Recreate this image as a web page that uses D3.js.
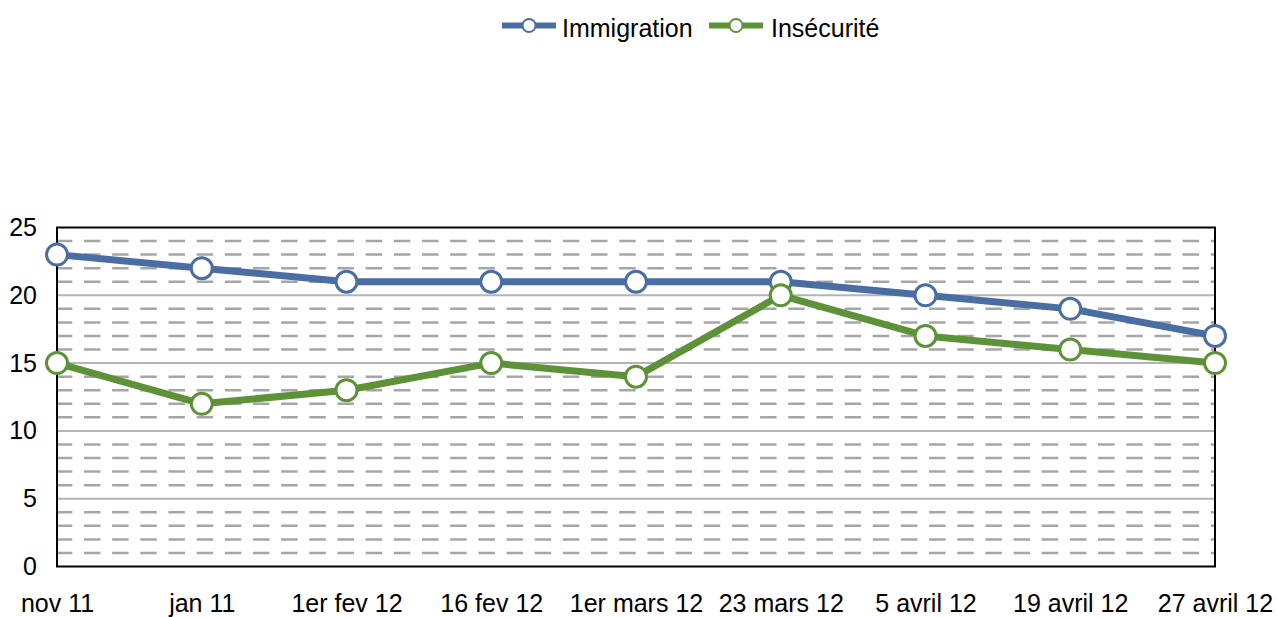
<!DOCTYPE html>
<html>
<head>
<meta charset="utf-8">
<script src="https://cdnjs.cloudflare.com/ajax/libs/d3/7.8.5/d3.min.js"></script>
<style>
  body { margin: 0; background: #fff; }
  svg text { font-family: "Liberation Sans", Arial, sans-serif; fill: #000; }
</style>
</head>
<body>
<div id="chart"></div>
<script>
// data
var categories = ["nov 11", "jan 11", "1er fev 12", "16 fev 12", "1er mars 12", "23 mars 12", "5 avril 12", "19 avril 12", "27 avril 12"];
var immigration = [23, 22, 21, 21, 21, 21, 20, 19, 17];
var insecurite = [15, 12, 13, 15, 14, 20, 17, 16, 15];
var yTicks = [0, 5, 10, 15, 20, 25];

var series = [
    { name: "Immigration", values: immigration, color: "#4a6ea3" },
    { name: "Insécurité", values: insecurite, color: "#5d9238" }
];

var width = 1277, height = 617;
var margin = { top: 227.5, right: 62, bottom: 50.5, left: 57 };
var innerW = width - margin.left - margin.right;
var innerH = height - margin.top - margin.bottom;

var svg = d3.select("#chart").append("svg")
    .attr("width", width)
    .attr("height", height);

var x = d3.scalePoint()
    .domain(categories)
    .range([margin.left, margin.left + innerW]);

var y = d3.scaleLinear()
    .domain([0, 25])
    .range([margin.top + innerH, margin.top]);

// minor dashed grid, every unit
var minor = d3.range(1, 25).filter(function(v){ return v % 5 != 0 });
svg.append("g").selectAll("line")
    .data(minor)
    .enter()
    .append("line")
    .attr("x1", margin.left)
    .attr("x2", margin.left + innerW)
    .attr("y1", function(d){ return y(d) })
    .attr("y2", function(d){ return y(d) })
    .attr("stroke", "#a6a6a6")
    .attr("stroke-width", 2.5)
    .attr("stroke-dasharray", "16.5,11.67")
    .attr("stroke-dashoffset", 1.2);

// major grid
svg.append("g").selectAll("line")
    .data(yTicks.filter(function(d){ return d > 0 && d < 25 }))
    .enter()
    .append("line")
    .attr("x1", margin.left)
    .attr("x2", margin.left + innerW)
    .attr("y1", function(d){ return y(d) })
    .attr("y2", function(d){ return y(d) })
    .attr("stroke", "#b4b4b4")
    .attr("stroke-width", 2);

// plot box
svg.append("rect")
    .attr("x", margin.left)
    .attr("y", margin.top)
    .attr("width", innerW)
    .attr("height", innerH)
    .attr("fill", "none")
    .attr("stroke", "#000")
    .attr("stroke-width", 2);

// y axis labels
var yAxis = d3.axisLeft(y).tickValues(yTicks).tickSize(0).tickPadding(20);
var gy = svg.append("g")
    .attr("transform", "translate(" + margin.left + ",0)")
    .call(yAxis);
gy.select(".domain").remove();
gy.selectAll("text")
    .style("font-size", "25px")
    .style("font-family", "Liberation Sans, Arial, sans-serif");

// x axis labels
var xAxis = d3.axisBottom(x).tickSize(0).tickPadding(28);
var gx = svg.append("g")
    .attr("transform", "translate(0," + (margin.top + innerH) + ")")
    .call(xAxis);
gx.select(".domain").remove();
gx.selectAll("text")
    .style("font-size", "25px")
    .style("font-family", "Liberation Sans, Arial, sans-serif");

var line = d3.line()
    .x(function(d, i){ return x(categories[i]) })
    .y(function(d){ return y(d) });

series.forEach(function(s){
    svg.append("path")
        .datum(s.values)
        .attr("d", line)
        .attr("fill", "none")
        .attr("stroke", s.color)
        .attr("stroke-width", 7)
        .attr("stroke-linejoin", "round");

    svg.append("g").selectAll("circle")
        .data(s.values)
        .enter()
        .append("circle")
        .attr("cx", function(d, i){ return x(categories[i]) })
        .attr("cy", function(d){ return y(d) })
        .attr("r", 10.5)
        .attr("fill", "#fff")
        .attr("stroke", s.color)
        .attr("stroke-width", 3);
});

// legend
var legendItems = [
    { x: 502, textX: 562 },
    { x: 709, textX: 771 }
];
var legend = svg.append("g");
series.forEach(function(s, i){
    var it = legendItems[i];
    legend.append("line")
        .attr("x1", it.x)
        .attr("x2", it.x + 54)
        .attr("y1", 25.5)
        .attr("y2", 25.5)
        .attr("stroke", s.color)
        .attr("stroke-width", 6);
    legend.append("circle")
        .attr("cx", it.x + 27)
        .attr("cy", 25.5)
        .attr("r", 6.5)
        .attr("fill", "#fff")
        .attr("stroke", s.color)
        .attr("stroke-width", 2);
    legend.append("text")
        .attr("x", it.textX)
        .attr("y", 28.5)
        .attr("dy", "0.35em")
        .style("font-size", "25px")
        .text(s.name);
});
</script>
</body>
</html>
